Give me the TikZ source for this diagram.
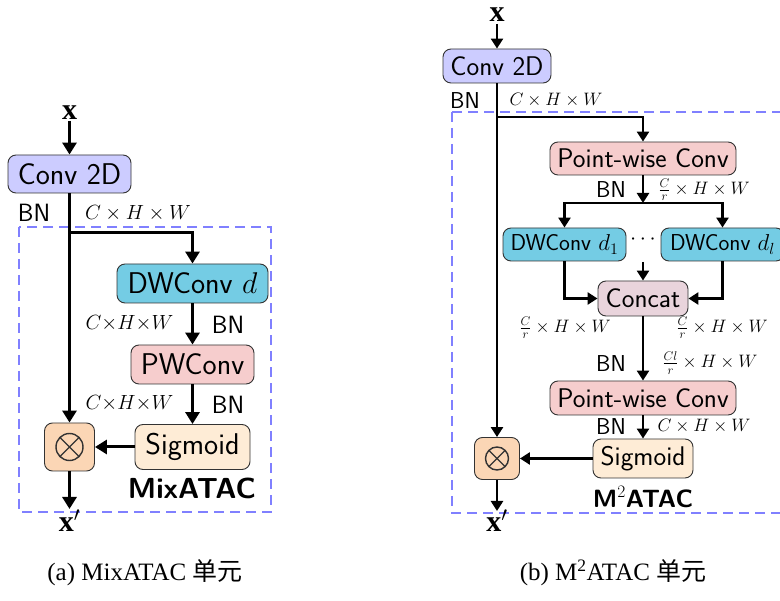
\RequirePackage{fix-cm}
\documentclass[tikz,border=0pt]{standalone}
\usepackage{fontspec}
\usetikzlibrary{arrows.meta}
\newfontfamily\capfont{Liberation Serif}
\newfontfamily\cjkfont{Noto Sans CJK SC}
\newfontfamily\xfont{Liberation Serif}
\newcommand\fsz[1]{\fontsize{#1}{#1}\selectfont}

\definecolor{cConv}{RGB}{204,204,255}
\definecolor{cDW}{RGB}{116,204,228}
\definecolor{cPW}{RGB}{246,205,205}
\definecolor{cSig}{RGB}{254,236,214}
\definecolor{cMul}{RGB}{251,214,181}
\definecolor{cCat}{RGB}{233,212,220}
\definecolor{cDash}{RGB}{128,128,255}

\tikzset{
  box/.style={draw=black!80, line width=0.9pt, rounded corners=8pt, inner sep=0pt, align=center},
  boxL/.style={box, font=\sffamily\fsz{30}},
  boxR/.style={box, font=\sffamily\fsz{27}},
  % multiplication box: a circled cross drawn inside the node
  mulbox/.style={box, fill=cMul, path picture={
      \draw[line width=1.4pt, rounded corners=0pt]
        (path picture bounding box.center) circle (#1)
        (path picture bounding box.center) ++(45:#1) -- ++(225:2*#1)
        (path picture bounding box.center) ++(135:#1) -- ++(315:2*#1);}},
  conL/.style={line width=3pt, -{Triangle[length=12pt,width=14pt]}},
  conR/.style={line width=2.6pt, -{Triangle[length=10pt,width=12pt]}},
  dashbox/.style={draw=cDash, line width=1.3pt, dash pattern=on 10pt off 6pt},
  bnL/.style={font=\sffamily\fsz{25}},
  bnR/.style={font=\sffamily\fsz{23}},
  dimL/.style={font=\fsz{20.5}},
  dimR/.style={font=\fsz{18}},
  xlab/.style={anchor=base, font=\xfont\bfseries\fsz{30}, inner sep=0pt, text height=14pt, text depth=0pt},
  caption/.style={anchor=base, font=\capfont\fsz{25}},
}

\begin{document}
\begin{tikzpicture}[x=1pt,y=-1pt]
\useasboundingbox (0,0) rectangle (780,601);
\clip (0,0) rectangle (780,601);

% ---------------- (a) MixATAC ----------------
\draw[dashbox] (19,227) rectangle (271,512);

\node[xlab] (xa) at (69.5,120) {x};
\node[boxL, fill=cConv, minimum width=123pt, minimum height=38pt] (conva) at (69.5,174) {Conv 2D};
\node[boxL, fill=cDW, minimum width=151pt, minimum height=39pt] (dwa) at (192.5,283.5) {DWConv $d$};
\node[boxL, fill=cPW, minimum width=123pt, minimum height=39pt] (pwa) at (192.5,364.5) {PWConv};
\node[boxL, fill=cSig, minimum width=115pt, minimum height=45pt] (siga) at (192.5,447) {Sigmoid};
\node[mulbox=13.5pt, minimum width=50pt, minimum height=48pt] (mula) at (69.5,447) {};
\node[xlab] (xpa) at (69.5,532) {x$'$};
\coordinate (ja) at (69.5,233);
\coordinate (enda) at (69.5,509);

\node[bnL] (bna1) at (34,213) {BN};
\node[dimL] (dima1) at (138,213) {$C\times H\times W$};
\node[dimL] (dima2) at (129.5,323) {$C{\times}H{\times}W$};
\node[bnL] (bna2) at (228,325) {BN};
\node[dimL] (dima3) at (129.5,403) {$C{\times}H{\times}W$};
\node[bnL] (bna3) at (228,405) {BN};
\node[font=\sffamily\bfseries\fsz{29}] (namea) at (192,488) {MixATAC};

\draw[conL] (xa.north |- 0,121) -- (conva.north);
\draw[conL] (conva.south) -- (mula.north);
\draw[conL] (ja) -| (dwa.north);
\draw[conL] (dwa.south) -- (pwa.north);
\draw[conL] (pwa.south) -- (siga.north);
\draw[conL] (siga.west) -- (mula.east);
\draw[conL] (mula.south) -- (enda);

\node[caption] (capa) at (145,581) {(a) MixATAC {\cjkfont 单元}};

% ---------------- (b) M2ATAC ----------------
\draw[dashbox] (452,112) rectangle (800,513);

\node[xlab] (xb) at (497,22) {x};
\node[boxR, fill=cConv, minimum width=108pt, minimum height=34pt] (convb) at (497,66) {Conv 2D};
\node[boxR, fill=cPW, minimum width=186pt, minimum height=33pt] (pw1) at (643,158.5) {Point-wise Conv};
\node[boxR, fill=cDW, minimum width=123pt, minimum height=33pt, font=\sffamily\fsz{23}] (d1) at (564.5,244.5) {DWConv $d_1$};
\node[boxR, fill=cDW, minimum width=123pt, minimum height=33pt, font=\sffamily\fsz{23}] (dl) at (722.5,244.5) {DWConv $d_l$};
\node[font=\fsz{22}] (dots) at (643,240) {$\cdots$};
\node[boxR, fill=cCat, minimum width=90pt, minimum height=35pt] (cat) at (643,298.5) {Concat};
\node[boxR, fill=cPW, minimum width=186pt, minimum height=34pt] (pw2) at (643,398) {Point-wise Conv};
\node[boxR, fill=cSig, minimum width=100pt, minimum height=39pt] (sigb) at (643,458.5) {Sigmoid};
\node[mulbox=11.5pt, minimum width=45pt, minimum height=42pt] (mulb) at (497,458.5) {};
\node[xlab] (xpb) at (497,532) {x$'$};
\coordinate (jb) at (497,117);
\coordinate (split) at (643,203);
\coordinate (dotsend) at (643,262);
\coordinate (endb) at (497,511);

\node[bnR] (bnb1) at (465,101) {BN};
\node[dimR] (dimb1) at (556,100) {$C\times H\times W$};
\node[bnR] (bnb2) at (611,190) {BN};
\node[dimR] (dimb2) at (704,190) {$\frac{C}{r}\times H\times W$};
\node[dimR] (dimb3) at (565,328) {$\frac{C}{r}\times H\times W$};
\node[dimR] (dimb4) at (722,328) {$\frac{C}{r}\times H\times W$};
\node[bnR] (bnb3) at (611,364) {BN};
\node[dimR] (dimb5) at (710,363) {$\frac{Cl}{r}\times H\times W$};
\node[bnR] (bnb4) at (611,427) {BN};
\node[dimR] (dimb6) at (704,426) {$C\times H\times W$};
\node[font=\sffamily\bfseries\fsz{25}] (nameb) at (643,497) {M$^2$ATAC};

\draw[conR] (xb.north |- 0,24) -- (convb.north);
\draw[conR] (convb.south) -- (mulb.north);
\draw[conR] (jb) -| (pw1.north);
\draw[conR] (pw1.south) -- (split);
\draw[conR] (split) -| (d1.north);
\draw[conR] (split) -| (dl.north);
\draw[conR] (dotsend) -- (cat.north);
\draw[conR] (d1.south) |- (cat.west);
\draw[conR] (dl.south) |- (cat.east);
\draw[conR] (cat.south) -- (pw2.north);
\draw[conR] (pw2.south) -- (sigb.north);
\draw[conR] (sigb.west) -- (mulb.east);
\draw[conR] (mulb.south) -- (endb);

\node[caption] (capb) at (613,581) {(b) M\textsuperscript{2}ATAC {\cjkfont 单元}};
\end{tikzpicture}
\end{document}
